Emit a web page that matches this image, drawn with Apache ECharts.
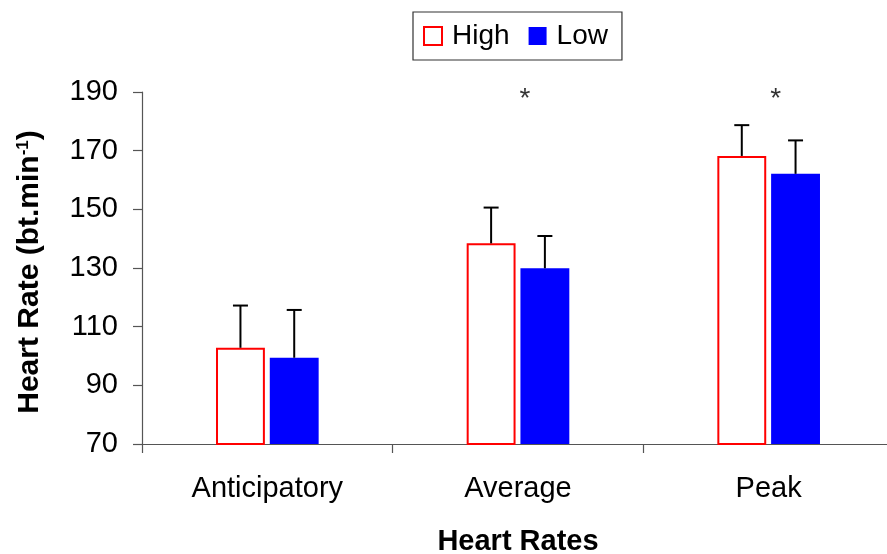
<!DOCTYPE html>
<html>
<head>
<meta charset="utf-8">
<script src="https://cdn.jsdelivr.net/npm/echarts@6/dist/echarts.min.js"></script>
<style>html,body{margin:0;padding:0;background:#fff}#c{width:887px;height:554px}</style>
</head>
<body>
<div id="c"></div>
<script>
const categories = ['Anticipatory', 'Average', 'Peak'];
const highValues = [102.8, 138.4, 168.2];
const highErrors = [14.4, 12.2, 10.5];
const lowValues = [99.4, 129.9, 162.1];
const lowErrors = [16.3, 11.0, 11.4];
const significance = [null, 188, 188];
const yTicks = { min: 70, max: 190, interval: 20 };

const FONT = '"Liberation Sans", Arial, sans-serif';
const BAR_W = 0.195, GAP = 0.10;
const OFFSET = BAR_W * (1 + GAP) / 2;

function errSeries(values, errors, sign) {
  return {
    type: 'custom',
    z: 5,
    silent: true,
    data: values.map((v, i) => [i, v, errors[i]]),
    renderItem: function (params, api) {
      const ci = api.value(0), mean = api.value(1), err = api.value(2);
      const band = api.size([1, 0])[0];
      const base = api.coord([ci, mean]);
      const top = api.coord([ci, mean + err]);
      const x = base[0] + sign * band * OFFSET;
      const st = { stroke: '#000', lineWidth: 2 };
      return {
        type: 'group',
        children: [
          { type: 'line', shape: { x1: x, y1: base[1], x2: x, y2: top[1] }, style: st },
          { type: 'line', shape: { x1: x - 7.5, y1: top[1], x2: x + 7.5, y2: top[1] }, style: st }
        ]
      };
    }
  };
}

const chart = echarts.init(document.getElementById('c'));
chart.setOption({
  animation: false,
  backgroundColor: '#fff',
  textStyle: { fontFamily: FONT },
  grid: { left: 142, width: 752, top: 92, height: 352, containLabel: false, outerBoundsMode: 'none' },
  legend: {
    data: ['High', 'Low'],
    left: 413, top: 12,
    padding: [10, 14, 10, 10],
    icon: 'rect',
    itemWidth: 18, itemHeight: 18,
    itemGap: 19,
    borderColor: '#333', borderWidth: 1.2,
    textStyle: { fontFamily: FONT, fontSize: 28, color: '#000', padding: [0, 0, 0, 5] }
  },
  xAxis: {
    type: 'category',
    data: categories,
    boundaryGap: true,
    axisLine: { lineStyle: { color: '#555', width: 1.2 } },
    axisTick: { show: true, length: 9, inside: false, alignWithLabel: false, lineStyle: { color: '#555', width: 1.2 } },
    axisLabel: { fontFamily: FONT, fontSize: 29, color: '#000', margin: 30 },
    name: 'Heart Rates',
    nameLocation: 'middle',
    nameGap: 83,
    nameTextStyle: { fontFamily: FONT, fontSize: 29, fontWeight: 'bold', color: '#000' }
  },
  yAxis: {
    type: 'value',
    min: yTicks.min, max: yTicks.max, interval: yTicks.interval,
    splitLine: { show: false },
    axisLine: { show: true, lineStyle: { color: '#555', width: 1.2 } },
    axisTick: { show: true, length: 9, lineStyle: { color: '#555', width: 1.2 } },
    axisLabel: { fontFamily: FONT, fontSize: 29, color: '#000', margin: 24 },
    name: '{a|Heart Rate (bt.min}{s|-1}{e|)}',
    nameLocation: 'middle',
    nameRotate: 90,
    nameGap: 97,
    nameTextStyle: {
      rich: {
        a: { fontFamily: FONT, fontSize: 30, fontWeight: 'bold', color: '#000' },
        s: { fontFamily: FONT, fontSize: 17, fontWeight: 'bold', color: '#000', verticalAlign: 'top' },
        e: { fontFamily: FONT, fontSize: 30, fontWeight: 'bold', color: '#000', padding: [0, 8, 0, 0] }
      }
    }
  },
  series: [
    {
      name: 'High', type: 'bar',
      data: highValues,
      barWidth: (BAR_W * 100) + '%',
      barGap: (GAP * 100) + '%',
      itemStyle: { color: '#fff', borderColor: '#ff0000', borderWidth: 2 }
    },
    {
      name: 'Low', type: 'bar',
      data: lowValues,
      barWidth: (BAR_W * 100) + '%',
      barGap: (GAP * 100) + '%',
      itemStyle: { color: '#0000ff' }
    },
    errSeries(highValues, highErrors, -1),
    errSeries(lowValues, lowErrors, 1),
    {
      type: 'scatter',
      data: significance,
      symbolSize: 0,
      silent: true,
      label: {
        show: true, position: 'inside', formatter: '*', offset: [7, 1],
        fontFamily: FONT, fontSize: 28, color: '#000'
      }
    }
  ]
});
</script>
</body>
</html>
